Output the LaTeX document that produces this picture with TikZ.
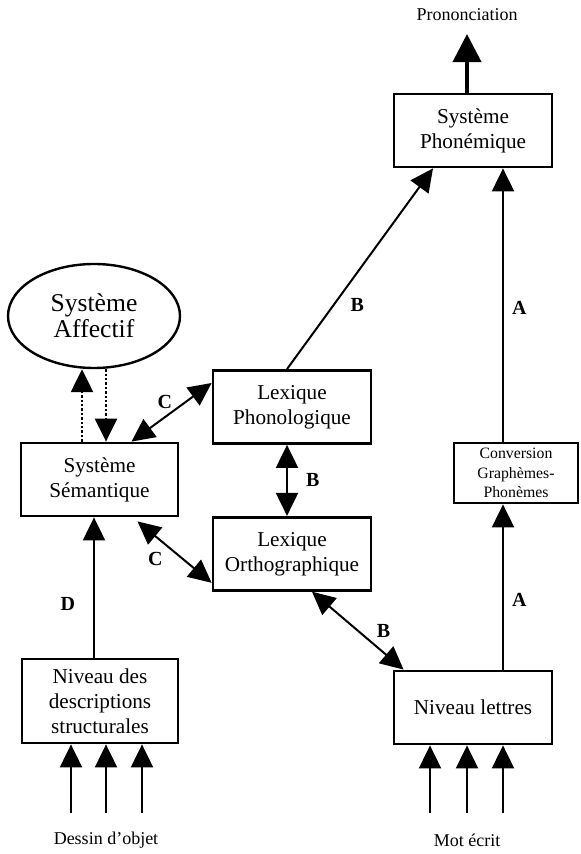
\documentclass[tikz,border=0pt]{standalone}
\usepackage{fontspec}
\setmainfont{Liberation Serif}
\usetikzlibrary{shapes.geometric, arrows.meta, positioning, calc}

\begin{document}
\begin{tikzpicture}[x=0.5pt, y=-0.5pt, >={Triangle[width=11pt,length=11.5pt]}, line width=1pt]
    \tikzset{
        block/.style={rectangle, draw, line width=1.4pt, minimum width=79pt, minimum height=36.5pt, inner sep=0pt, align=center, font=\fontsize{10.6}{12.5}\selectfont},
        bubble/.style={ellipse, draw, line width=1.2pt, minimum width=86pt, minimum height=52pt, inner sep=0pt, align=center, font=\fontsize{12.8}{12.8}\selectfont},
        line/.style={draw, ->},
        both/.style={draw, <->},
        dots/.style={draw, ->, densely dotted, line width=1.2pt},
        tag/.style={font=\fontsize{10}{12}\selectfont\bfseries, inner sep=0pt},
        caption/.style={font=\fontsize{9}{11}\selectfont, inner sep=0pt}
    }
    \useasboundingbox (0,0) rectangle (580,854);

    \node (Pron) [caption] at (467,15) {Prononciation};
    \node (SysPhon) [block] at (473,130.5) {Système\\Phonémique};
    \node (Affectif) [bubble] at (94,316) {Système\\Affectif};
    \node (SysSem) [block, minimum width=78.5pt] at (99.5,479.5) {Système\\Sémantique};
    \node (LexPhon) [block] at (292,407) {Lexique\\Phonologique};
    \node (LexOrtho) [block, below=35.5pt of LexPhon] {Lexique\\Orthographique};
    \node (Conversion) [block, minimum width=62pt, minimum height=30pt, font=\fontsize{7.9}{9.7}\selectfont] at (516,473) {Conversion\\Graphèmes-\\Phonèmes};
    \node (NivDesc) [block, minimum width=78pt, minimum height=42pt] at (100,701) {Niveau des\\descriptions\\structurales};
    \node (NivLettres) [block] at (473,707.5) {Niveau lettres};
    \node (Dessin) [caption] at (106,840) {Dessin d’objet};
    \node (Mot) [caption] at (467,840) {Mot écrit};

    \coordinate (ColA) at (503,0);
    \coordinate (UpX) at (82,0);
    \coordinate (DownX) at (106,0);

    \path [line, line width=2pt, >={Triangle[width=14pt,length=14pt]}, shorten >=6pt] (SysPhon.north -| Pron) -- (Pron.south);
    \path [line] ([xshift=-2.5pt]LexPhon.north) -- node [pos=0.32, right=8pt, tag] {B} ([xshift=-20pt]SysPhon.south);
    \path [line] (ColA |- Conversion.north) -- node [pos=0.49, right=4pt, tag] {A} (ColA |- SysPhon.south);
    \path [line] (ColA |- NivLettres.north) -- node [pos=0.42, right=4pt, tag] {A} (ColA |- Conversion.south);
    \path [both] ([xshift=-2.5pt]LexPhon.south) -- node [right=9pt, tag] {B} ([xshift=-2.5pt]LexOrtho.north);
    \path [both] ([xshift=16pt]SysSem.north) -- node [pos=0.67, left=6pt, tag] {C} ([yshift=12pt]LexPhon.west);
    \path [both] ([xshift=19pt, yshift=-2pt]SysSem.south) -- node [pos=0.62, left=10pt, tag] {C} ([yshift=-14.5pt]LexOrtho.west);
    \path [both] ([xshift=10pt]LexOrtho.south) -- node [right=9pt, tag] {B} ([xshift=5.5pt]NivLettres.north west);
    \path [line] ([xshift=-3pt]NivDesc.north) -- node [pos=0.38, left=9pt, tag] {D} ([xshift=-2.75pt]SysSem.south);

    \path [dots] (UpX |- SysSem.north) -- (UpX |- Affectif.south);
    \path [dots] (DownX |- Affectif.south) -- (DownX |- SysSem.north);

    \foreach \x [count=\i] in {71,106,142} {
        \coordinate (DIn\i) at (\x,813);
        \path [line] (DIn\i) -- (DIn\i |- NivDesc.south);
    }
    \foreach \x [count=\i] in {430,467,503} {
        \coordinate (MIn\i) at (\x,813);
        \path [line] (MIn\i) -- (MIn\i |- NivLettres.south);
    }
\end{tikzpicture}
\end{document}
